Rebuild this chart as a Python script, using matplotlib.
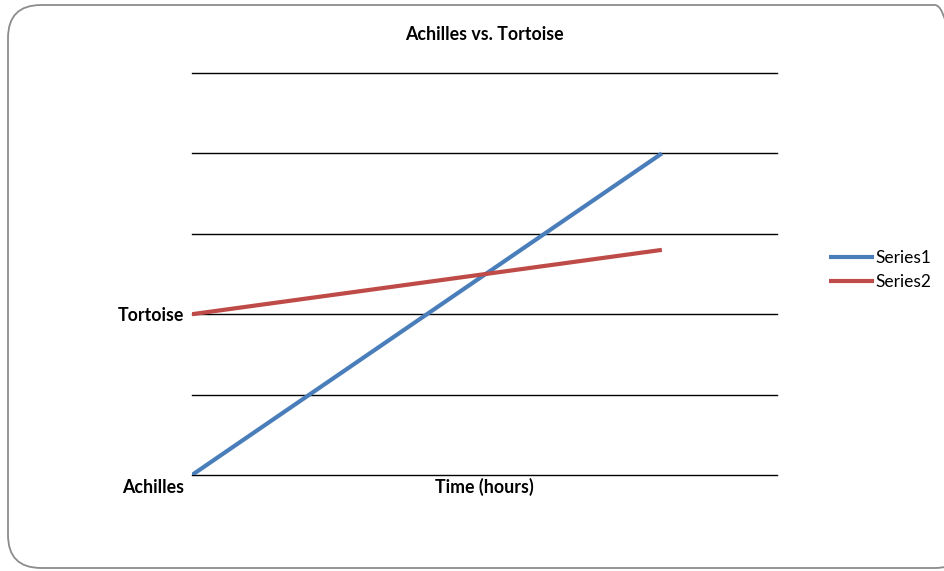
import matplotlib
matplotlib.use("Agg")

import matplotlib.pyplot as plt
import matplotlib.transforms as mtransforms
from matplotlib.patches import FancyBboxPatch

hours = [0, 1, 2, 3, 4]
series1 = [0, 1, 2, 3, 4]            # Achilles
series2 = [2, 2.2, 2.4, 2.6, 2.8]    # Tortoise
series_names = ["Series1", "Series2"]
y_ticks = [0, 1, 2, 3, 4, 5]
y_labels = ["Achilles", "", "Tortoise", "", "", ""]

plt.rcParams['font.family'] = ['Lato', 'DejaVu Sans']

fig = plt.figure(figsize=(9.45, 5.71), dpi=100)

# rounded chart border
W, H = 945, 571
frame = FancyBboxPatch((8 / W, 3 / H), 960 / W, 563 / H,
                       boxstyle="round,pad=0,rounding_size=0.035",
                       transform=fig.transFigure, fill=False,
                       edgecolor="#8c8c8c", linewidth=1.3,
                       mutation_aspect=W / H)
fig.patches.append(frame)

ax = fig.add_axes([192 / W, 1 - 475 / H, 585 / W, 402 / H])
ax.plot(hours, series1, color="#4A7EBB", linewidth=3.0, label=series_names[0],
        solid_capstyle="butt", zorder=3)
ax.plot(hours, series2, color="#BE4B48", linewidth=3.0, label=series_names[1],
        solid_capstyle="butt", zorder=3)

ax.set_xlim(0, 4.98)
ax.set_ylim(0, 5)
ax.set_xticks([])
ax.set_yticks(y_ticks)
ax.set_yticklabels(y_labels, fontweight="bold", fontsize=12.8)
ax.tick_params(axis="y", length=0, pad=6)
ax.yaxis.grid(True, color="black", linewidth=1.0)
for gl in ax.get_ygridlines():
    gl.set_clip_on(False)
ax.set_axisbelow(True)
for s in ax.spines.values():
    s.set_visible(False)

# Achilles label sits a bit below its gridline
lab = ax.get_yticklabels()[0]
lab.set_transform(lab.get_transform() +
                  mtransforms.ScaledTranslation(0, -8 / 72, fig.dpi_scale_trans))

ax.set_title("Achilles vs. Tortoise", fontweight="bold", fontsize=12.8, pad=24)
ax.set_xlabel("Time (hours)", fontweight="bold", fontsize=12.8, labelpad=2)

fig.legend(loc="center left", bbox_to_anchor=(829 / W, 1 - 270 / H),
           frameon=False, fontsize=12.5, handlelength=2.6, handletextpad=0.1,
           labelspacing=0.5, borderaxespad=0, borderpad=0)

plt.savefig("out.png", dpi=100)
